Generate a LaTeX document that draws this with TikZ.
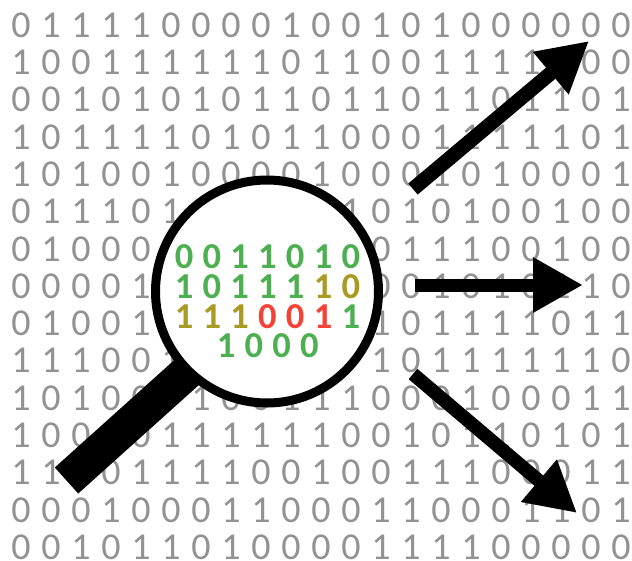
\documentclass[tikz,border=0pt]{standalone}
\usepackage{fontspec}
\setmainfont{Carlito}
\usetikzlibrary{arrows.meta}
\definecolor{dgrey}{HTML}{929292}
\definecolor{dgreen}{HTML}{4CAF50}
\definecolor{dolive}{HTML}{A89A22}
\definecolor{dred}{HTML}{F44336}
\tikzset{
  bit/.style={text=dgrey,font=\fontsize{38}{38}\selectfont,inner sep=0pt,anchor=center},
  hot/.style={font=\bfseries\fontsize{36.5}{36.5}\selectfont,inner sep=0pt,anchor=center},
  shaft/.style={draw=black,-{Triangle[length=50pt,width=52pt]}},
  lensring/.style={circle,draw=black,line width=9pt,fill=white,minimum size=223pt,inner sep=0pt},
  handlebar/.style={draw=black,line width=35pt}
}
\begin{document}
\begin{tikzpicture}[x=1pt,y=-1pt]
\useasboundingbox (0,0) rectangle (632,560);
\newcommand{\bitrow}[2]{%
  \foreach \c [count=\i from 0] in {#2}{%
    \if\c x\else
      \node[bit] (b#1-\i) at ({21+30*\i},{25+37.3*#1}) {\c};
    \fi}}
\bitrow{0}{0,1,1,1,1,0,0,0,0,1,0,0,1,0,1,0,0,0,0,0,0}
\bitrow{1}{1,0,0,1,1,1,1,1,1,0,1,1,0,0,1,1,1,1,1,0,0}
\bitrow{2}{0,0,1,0,1,0,1,0,1,1,0,1,1,0,1,1,0,1,1,0,1}
\bitrow{3}{1,0,1,1,1,1,0,1,0,1,1,0,0,0,1,1,1,1,1,0,1}
\bitrow{4}{1,0,1,0,0,1,0,0,0,0,1,0,0,0,1,0,1,0,0,0,1}
\bitrow{5}{0,1,1,1,0,1,x,x,x,x,x,1,0,1,0,1,0,0,1,0,0}
\bitrow{6}{0,1,0,0,0,x,x,x,x,x,x,x,0,1,1,1,0,0,1,0,0}
\bitrow{7}{0,0,0,0,1,x,x,x,x,x,x,x,0,0,1,0,1,0,1,1,0}
\bitrow{8}{0,1,0,0,1,x,x,x,x,x,x,x,1,0,1,1,1,1,0,1,1}
\bitrow{9}{1,1,1,0,0,1,x,x,x,x,x,x,1,0,1,1,1,1,1,1,0}
\bitrow{10}{1,0,1,0,0,x,1,0,0,1,1,1,0,0,0,1,0,0,0,1,1}
\bitrow{11}{1,0,0,x,0,1,1,1,1,1,1,0,0,1,0,1,1,0,1,0,1}
\bitrow{12}{1,1,x,0,1,1,1,1,0,0,1,0,0,1,1,1,0,0,0,1,1}
\bitrow{13}{0,0,0,1,0,0,0,1,1,0,0,0,1,1,0,0,0,1,1,0,1}
\bitrow{14}{0,0,1,0,1,1,0,1,0,0,0,0,1,1,1,1,0,0,0,0,0}
% magnifier
\coordinate (hEnd) at (66.5,480.5);
\coordinate (hTop) at (215,347);
\draw[handlebar] (hEnd) -- (hTop);
\node[lensring] (lens) at (267,291.5) {};
% magnified digits
\newcommand{\hotrow}[4]{%
  \foreach \c/\k [count=\i from 0] in {#4}{%
    \node[hot,text=\k] (h#1-\i) at ({#2+27.8*\i},#3) {\c};}}
\hotrow{0}{184}{257}{0/dgreen,0/dgreen,1/dgreen,1/dgreen,0/dgreen,1/dgreen,0/dgreen}
\hotrow{1}{184}{287}{1/dgreen,0/dgreen,1/dgreen,1/dgreen,1/dgreen,1/dolive,0/dolive}
\hotrow{2}{184}{317}{1/dolive,1/dolive,1/dolive,0/dred,0/dred,1/dred,1/dgreen}
\hotrow{3}{226}{346}{1/dgreen,0/dgreen,0/dgreen,0/dgreen}
% arrows
\coordinate (aS1) at (413,189);
\coordinate (aE1) at (589,41);
\coordinate (aS2) at (414.5,285);
\coordinate (aE2) at (583,285);
\coordinate (aS3) at (413,374);
\coordinate (aE3) at (577,513);
\draw[shaft,line width=14.5pt] (aS1) -- (aE1);
\draw[shaft,line width=13pt] (aS2) -- (aE2);
\draw[shaft,line width=13.5pt] (aS3) -- (aE3);
\end{tikzpicture}
\end{document}
